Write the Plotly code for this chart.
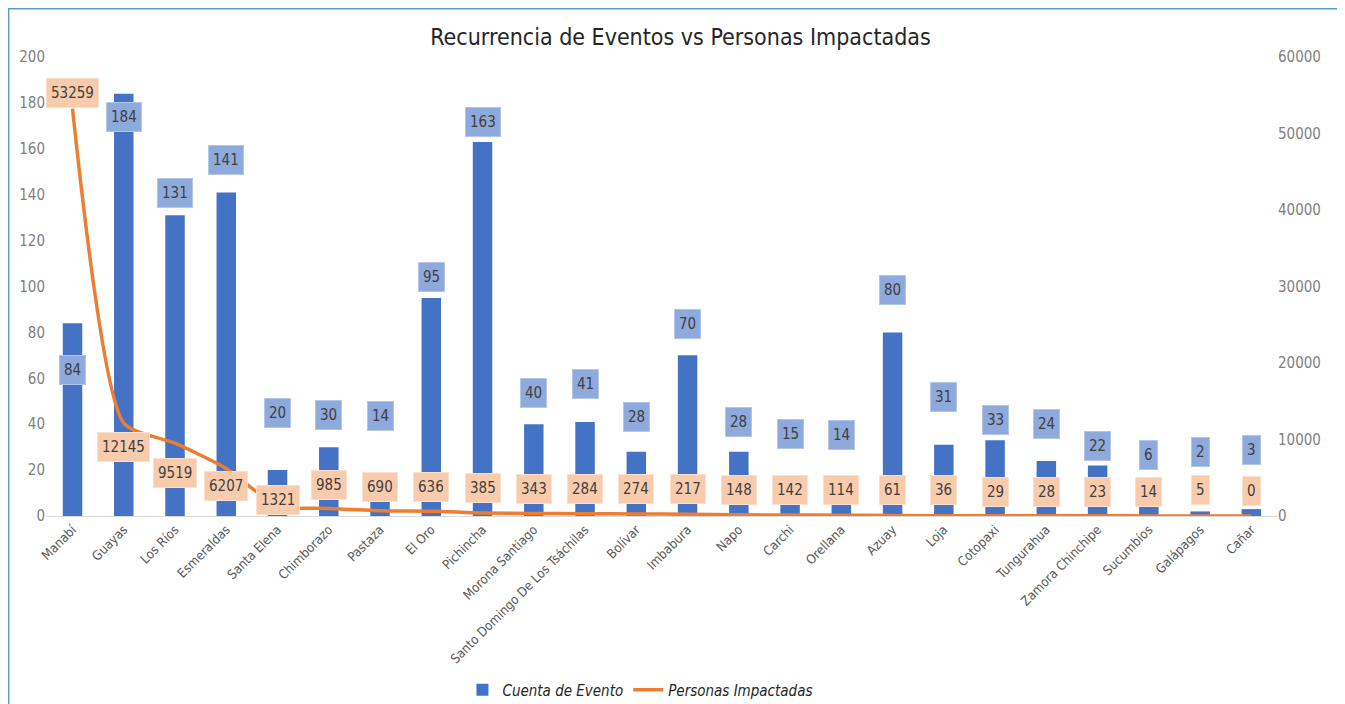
import plotly.graph_objects as go

provincias = ["Manabí", "Guayas", "Los Ríos", "Esmeraldas", "Santa Elena", "Chimborazo", "Pastaza",
              "El Oro", "Pichincha", "Morona Santiago", "Santo Domingo De Los Tsáchilas", "Bolívar",
              "Imbabura", "Napo", "Carchi", "Orellana", "Azuay", "Loja", "Cotopaxi", "Tungurahua",
              "Zamora Chinchipe", "Sucumbíos", "Galápagos", "Cañar"]
cuenta_evento = [84, 184, 131, 141, 20, 30, 14, 95, 163, 40, 41, 28, 70, 28, 15, 14, 80, 31, 33, 24, 22, 6, 2, 3]
personas_impactadas = [53259, 12145, 9519, 6207, 1321, 985, 690, 636, 385, 343, 284, 274, 217, 148, 142, 114,
                       61, 36, 29, 28, 23, 14, 5, 0]

# label placement (data units) as in the reference
bar_label_y = [63.6, 173.9, 140.7, 155.1, 44.8, 44.0, 43.6, 104, 171.7, 53.6, 57.5, 43.1, 83.7, 41, 35.7, 35.3,
               98.5, 51.9, 41.8, 40.1, 30.5, 26.6, 27.9, 28.8]
line_label_y = [55290, 9019, 5620, 3921, 2091, 4051, 3790, 3790, 3660, 3530, 3530, 3530, 3530, 3400, 3400, 3400,
                3400, 3400, 3140, 3140, 3140, 3140, 3400, 3270]

FONT = "Liberation Sans Narrow, DejaVu Sans Condensed, Roboto, sans-serif"

fig = go.Figure()
fig.add_trace(go.Bar(x=provincias, y=cuenta_evento, name="Cuenta de Evento",
                     marker=dict(color="#4472C4", line=dict(width=0)), yaxis="y"))
fig.add_trace(go.Scatter(x=provincias, y=personas_impactadas, name="Personas Impactadas", mode="lines",
                         line=dict(color="#ED7D31", width=3.5, shape="spline", smoothing=0.6), yaxis="y2"))

annotations = []
for p, v, ly in zip(provincias, cuenta_evento, bar_label_y):
    annotations.append(dict(x=p, y=ly, xref="x", yref="y", text=str(v), showarrow=False,
                            font=dict(family=FONT, size=15, color="#404040"), height=20, valign="middle",
                            bgcolor="#8EA9DB", bordercolor="#B4C6E7", borderwidth=1, borderpad=4))
for p, v, ly in zip(provincias, personas_impactadas, line_label_y):
    annotations.append(dict(x=p, y=ly, xref="x", yref="y2", text=str(v), showarrow=False,
                            font=dict(family=FONT, size=15, color="#404040"), height=20, valign="middle",
                            bgcolor="#F8CBAD", bordercolor="#FBE0CE", borderwidth=1, borderpad=4))

fig.update_layout(
    width=1345, height=704,
    margin=dict(l=38, r=76, t=49, b=196, autoexpand=False),
    paper_bgcolor="white", plot_bgcolor="white",
    font=dict(family=FONT, color="#595959"),
    title=dict(text="Recurrencia de Eventos vs Personas Impactadas", x=0.5, xanchor="center",
               y=0.9588, yanchor="middle", font=dict(family=FONT, size=23, color="#262626")),
    bargap=0.62,
    showlegend=True,
    legend=dict(orientation="h", x=0.4825, xanchor="center", y=-0.379, yanchor="middle",
                font=dict(family=FONT, size=15, color="#262626", style="italic")),
    xaxis=dict(tickangle=-45, tickfont=dict(family=FONT, size=13, color="#595959"), automargin=False,
               showline=True, linecolor="#D9D9D9", linewidth=1, showgrid=False, ticks=""),
    yaxis=dict(range=[0, 200], dtick=20, showgrid=False, zeroline=False, automargin=False,
               tickfont=dict(family=FONT, size=15, color="#7F7F7F")),
    yaxis2=dict(range=[0, 60000], dtick=10000, overlaying="y", side="right", showgrid=False,
                zeroline=False, automargin=False, tickformat="d",
                tickfont=dict(family=FONT, size=15, color="#7F7F7F")),
    annotations=annotations,
    shapes=[dict(type="rect", xref="paper", yref="paper", x0=-0.0305, x1=1.0504, y0=-0.5, y1=1.1057,
                 line=dict(color="#5B9BD5", width=2), fillcolor="rgba(0,0,0,0)", layer="below")],
)

fig.write_html("out.html")
